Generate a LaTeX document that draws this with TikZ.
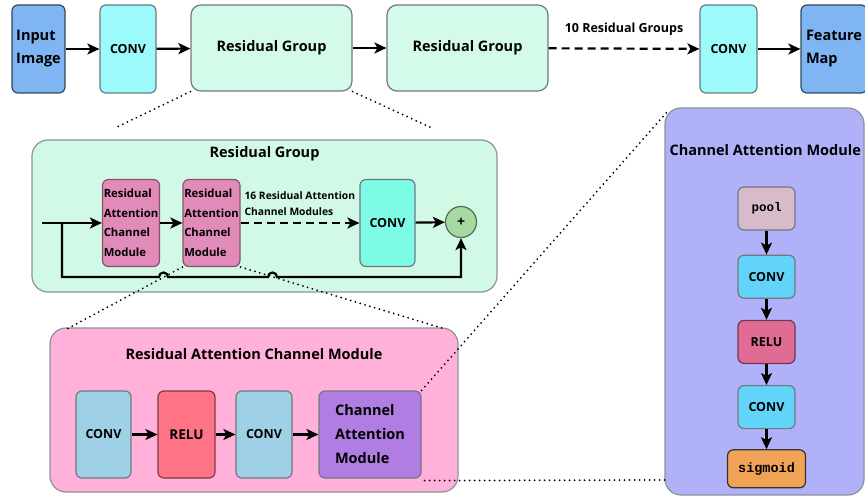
\documentclass[tikz,border=0pt]{standalone}
\usepackage{fontspec}
\setmainfont{Open Sans}
\setmonofont{Liberation Mono}
\usetikzlibrary{positioning, arrows.meta}

\definecolor{imgblue}{HTML}{7FB5F2}
\definecolor{convcyan}{HTML}{9CFAFA}
\definecolor{groupgreen}{HTML}{D4FBEA}
\definecolor{panelgreen}{HTML}{D2F9E6}
\definecolor{racmpink}{HTML}{E08BB8}
\definecolor{convaqua}{HTML}{7DFBE4}
\definecolor{plusgreen}{HTML}{A9D9A2}
\definecolor{panelpink}{HTML}{FFB1D9}
\definecolor{convblue}{HTML}{9ED1E6}
\definecolor{relured}{HTML}{FF7386}
\definecolor{campurple}{HTML}{B07DE2}
\definecolor{panelviolet}{HTML}{B1B1FA}
\definecolor{poolmauve}{HTML}{D8BBCB}
\definecolor{convsky}{HTML}{62D3F9}
\definecolor{relurose}{HTML}{E06C96}
\definecolor{sigorange}{HTML}{F0A256}
\definecolor{edgegray}{HTML}{6E7A80}
\definecolor{darkedge}{HTML}{33475A}

\begin{document}
\begin{tikzpicture}[x=1pt, y=-1pt,
		box/.style={rectangle, rounded corners=6pt, draw=edgegray, line width=1.2pt, inner sep=1pt, align=center, font=\bfseries\fontsize{12.5}{14}\selectfont},
		tallbox/.style={box, minimum height=88pt},
		groupbox/.style={box, fill=groupgreen, rounded corners=10pt, minimum width=161pt, minimum height=86pt, font=\bfseries\fontsize{14.5}{16}\selectfont},
		racmbox/.style={box, fill=racmpink, draw=racmpink!60!black, minimum width=57pt, minimum height=87pt, align=left, font=\bfseries\fontsize{11.3}{19.5}\selectfont},
		rowbox/.style={box, minimum height=87pt},
		cambox/.style={box, minimum width=57pt, minimum height=43pt},
		panel/.style={rectangle, draw=edgegray!80, line width=1.2pt, rounded corners=16pt},
		paneltitle/.style={font=\bfseries\fontsize{14.5}{16}\selectfont},
		arr/.style={-{Stealth[length=12pt, width=11pt, inset=3pt]}, line width=2.2pt},
		zoomline/.style={line width=2pt, line cap=round, dash pattern=on 0pt off 5pt},
		>=Stealth
	]
	\useasboundingbox (0,0) rectangle (865,500);
	\clip (0,0) rectangle (865,500);

	% top row
	\node[tallbox, fill=imgblue, draw=darkedge, minimum width=53pt, align=left, font=\bfseries\fontsize{14.5}{23}\selectfont] (input) at (38.5,49) {Input\\Image};
	\node[tallbox, fill=convcyan, minimum width=56pt] (conv1) at (128,49) {CONV};
	\node[groupbox] (rg1) at (271.5,48) {Residual Group};
	\node[groupbox] (rg2) at (467.5,48) {Residual Group};
	\node[tallbox, fill=convcyan, minimum width=57pt] (conv2) at (728.5,49) {CONV};
	\node[tallbox, fill=imgblue, draw=darkedge, minimum width=66pt, align=left, font=\bfseries\fontsize{14.5}{23}\selectfont] (fmap) at (834,49) {Feature\\Map};

	\foreach \i/\j in {input/conv1, conv1/rg1, rg1/rg2, conv2/fmap}
		\draw[arr] (\i) -- (\j);
	\draw[arr, dash pattern=on 8pt off 5pt] (rg2) -- node[above=9pt, font=\bfseries\fontsize{12.5}{14}\selectfont] (rgcount) {10 Residual Groups} (conv2);

	% residual group panel
	\node[panel, fill=panelgreen, minimum width=465pt, minimum height=152pt] (rgpanel) at (264.5,216) {};
	\node[paneltitle, below=4pt of rgpanel.north] (rgtitle) {Residual Group};
	\node[racmbox] (racm1) at (131,223) {Residual\\Attention\\Channel\\Module};
	\node[racmbox] (racm2) at (211.5,223) {Residual\\Attention\\Channel\\Module};
	\node[rowbox, fill=convaqua, minimum width=55pt] (conv3) at (387.5,223) {CONV};
	\node[circle, draw=plusgreen!50!black, fill=plusgreen, line width=1.2pt, minimum size=31pt, inner sep=0pt, font=\bfseries\fontsize{14}{15}\selectfont] (plus) at (461,222) {+};
	\node[anchor=west, align=left, font=\bfseries\fontsize{10.3}{16}\selectfont] (rgcount2) at (241,204) {16 Residual Attention\\Channel Modules};

	\coordinate (rgin) at (42,223);
	\coordinate (split) at (62,223);
	\draw[arr] (rgin) -- (racm1);
	\draw[arr] (racm1) -- (racm2);
	\draw[arr, dash pattern=on 8pt off 5pt] (racm2) -- (conv3);
	\draw[arr] (conv3) -- (plus);
	\draw[arr] (split) |- (159,277) arc[start angle=180, end angle=0, radius=4.5pt] -- (268,277) arc[start angle=180, end angle=0, radius=4.5pt] -| (plus.south);

	% residual attention channel module panel
	\node[panel, fill=panelpink, minimum width=408pt, minimum height=164pt] (racmpanel) at (254,410) {};
	\node[paneltitle, below=18pt of racmpanel.north] (racmtitle) {Residual Attention Channel Module};
	\node[rowbox, fill=convblue, minimum width=55pt] (conv4) at (103.5,434.5) {CONV};
	\node[rowbox, fill=relured, draw=relured!50!black, minimum width=57pt, font=\bfseries\fontsize{13.5}{15}\selectfont] (relu1) at (186.5,434.5) {RELU};
	\node[rowbox, fill=convblue, minimum width=56pt] (conv5) at (264,434.5) {CONV};
	\node[rowbox, fill=campurple, minimum width=102pt, align=left, font=\bfseries\fontsize{14.5}{24}\selectfont] (cam) at (370,434.5) {Channel\\Attention\\Module};
	\foreach \i/\j in {conv4/relu1, relu1/conv5, conv5/cam}
		\draw[arr] (\i) -- (\j);

	% channel attention module panel
	\node[panel, fill=panelviolet, minimum width=199pt, minimum height=387pt] (campanel) at (764.5,301.5) {};
	\node[paneltitle, anchor=west] (camtitle) at (666,150) {Channel Attention Module};
	\node[cambox, fill=poolmauve, font=\ttfamily\bfseries\fontsize{12.5}{14}\selectfont] (pool) at (766.5,208.5) {pool};
	\node[cambox, fill=convsky, below=24pt of pool] (cconv1) {CONV};
	\node[cambox, fill=relurose, draw=relurose!50!black, below=21pt of cconv1] (crelu) {RELU};
	\node[cambox, fill=convsky, below=21pt of crelu] (cconv2) {CONV};
	\node[cambox, fill=sigorange, draw=black!80, minimum width=78pt, minimum height=38pt, below=20pt of cconv2, font=\ttfamily\bfseries\fontsize{13.5}{15}\selectfont] (sigm) {sigmoid};
	\foreach \i/\j in {pool/cconv1, cconv1/crelu, crelu/cconv2, cconv2/sigm}
		\draw[arr] (\i) -- (\j);

	% zoom lines
	\coordinate (zl1) at (115,128);
	\coordinate (zr1) at (432,128);
	\coordinate (zl2) at (65,330);
	\coordinate (zr2) at (445,329);
	\coordinate (zt3) at (667,112);
	\coordinate (zb3) at (666,480);
	\draw[zoomline] (rg1.south west) -- (zl1);
	\draw[zoomline] (rg1.south east) -- (zr1);
	\draw[zoomline] (racm2.south west) -- (zl2);
	\draw[zoomline] (racm2.south east) -- (zr2);
	\draw[zoomline] (cam.north east) -- (zt3);
	\draw[zoomline] (cam.south east) ++(3pt,-2pt) -- (zb3);

\end{tikzpicture}
\end{document}
